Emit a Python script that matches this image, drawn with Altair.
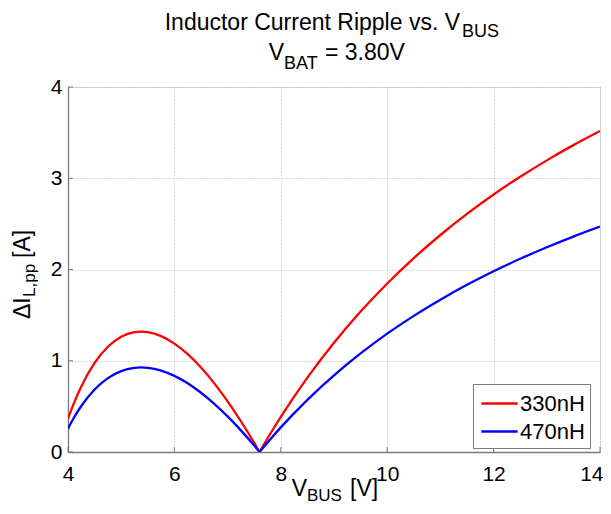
import altair as alt
import pandas as pd

# ---- data ----
vbus = [4.0, 4.1, 4.25, 4.5, 4.75, 5.0, 5.25, 5.374, 5.5, 5.75, 6.0, 6.25, 6.5, 6.75,
        7.0, 7.25, 7.5, 7.6, 7.8, 8.0, 8.5, 9.0, 9.5, 10.0, 10.5, 11.0, 11.5, 12.0,
        12.5, 13.0, 13.5, 14.0]
ripple_330 = [0.365, 0.519, 0.718, 0.976, 1.154, 1.264, 1.314, 1.320, 1.314, 1.270,
              1.188, 1.072, 0.925, 0.752, 0.555, 0.337, 0.100, 0.0, 0.197, 0.385,
              0.815, 1.197, 1.539, 1.847, 2.125, 2.378, 2.609, 2.822, 3.016, 3.196,
              3.363, 3.518]
ripple_470 = [0.256, 0.364, 0.504, 0.685, 0.810, 0.887, 0.922, 0.927, 0.922, 0.892,
              0.834, 0.753, 0.649, 0.528, 0.390, 0.237, 0.070, 0.0, 0.138, 0.270,
              0.572, 0.840, 1.080, 1.297, 1.492, 1.669, 1.832, 1.981, 2.117, 2.244,
              2.361, 2.470]
series = ["330nH", "470nH"]
x_ticks = [4, 6, 8, 10, 12, 14]
y_ticks = [0, 1, 2, 3, 4]
cusp = 7.6  # the curves touch zero here; draw each side as its own smooth piece

rows = []
for name, vals in zip(series, [ripple_330, ripple_470]):
    for v, i in zip(vbus, vals):
        if v <= cusp:
            rows.append({"v": v, "i": i, "L": name, "seg": name + "a"})
        if v >= cusp:
            rows.append({"v": v, "i": i, "L": name, "seg": name + "b"})
df = pd.DataFrame(rows)

FONT = "Liberation Sans"
W, H = 532, 365

xscale = alt.Scale(domain=[4, 14], nice=False, zero=False)
yscale = alt.Scale(domain=[0, 4], nice=False, zero=True)

grid_kw = dict(grid=True, gridDash=[1, 2], gridColor="#b4b4b4", gridWidth=1,
               ticks=False, domainColor="#7a7a7a", domainWidth=1.3,
               labelFont=FONT, labelFontSize=21, labelColor="black",
               labelFlush=False, title=None, format="d")

x_axis = alt.Axis(values=x_ticks, labelPadding=11,
                  labelAlign=alt.expr("datum.value == 14 ? 'right' : 'center'"),
                  labelOffset=alt.expr("datum.value == 14 ? 3 : 0"),
                  **grid_kw)

lines = alt.Chart(df).mark_line(strokeWidth=2.3, clip=True, interpolate="monotone").encode(
    x=alt.X("v:Q", scale=xscale, axis=x_axis),
    y=alt.Y("i:Q", scale=yscale, axis=alt.Axis(values=y_ticks, labelPadding=6, **grid_kw)),
    color=alt.Color("L:N",
                    scale=alt.Scale(domain=series, range=["#ff0000", "#0000ff"]),
                    legend=alt.Legend(orient="none", legendX=405, legendY=297, title=None,
                                      symbolType="M-1.4,0H1.4", symbolSize=676,
                                      symbolStrokeWidth=2.3, labelFont=FONT,
                                      labelFontSize=22, labelColor="black",
                                      padding=5, rowPadding=2, labelOffset=6,
                                      symbolOffset=7,
                                      strokeColor="#7a7a7a", fillColor="white")),
    detail="seg:N",
    order=alt.Order("v:Q"),
)

xt = alt.Chart(pd.DataFrame({"t": x_ticks})).mark_rule(color="#7a7a7a", strokeWidth=1).encode(
    x=alt.X("t:Q", scale=xscale), y=alt.value(H), y2=alt.value(H - 5))
yt = alt.Chart(pd.DataFrame({"t": y_ticks})).mark_rule(color="#7a7a7a", strokeWidth=1).encode(
    y=alt.Y("t:Q", scale=yscale), x=alt.value(0), x2=alt.value(5))


def txt(s, x, y, size, align="left", angle=0):
    return alt.Chart(alt.Data(values=[{}])).mark_text(
        text=s, font=FONT, fontSize=size, align=align, baseline="alphabetic",
        angle=angle, color="black").encode(x=alt.value(x), y=alt.value(y))


texts = [
    # title line 1
    txt("Inductor Current Ripple vs. V", 392, -57, 23, "right"),
    txt("BUS", 394, -50, 18, "left"),
    # title line 2
    txt("V", 216, -27, 23, "right"),
    txt("BAT", 216, -18, 18, "left"),
    txt("= 3.80V", 257, -27, 23, "left"),
    # x axis title
    txt("V", 239, 409, 23, "right"),
    txt("BUS", 239, 414, 17, "left"),
    txt("[V]", 282, 409, 23, "left"),
    # y axis title (rotated)
    txt("\u0394I", -38, 232, 23, "left", 270),
    txt("L,pp", -33, 210, 17, "left", 270),
    txt("[A]", -38, 171, 23, "left", 270),
]

chart = alt.layer(lines, xt, yt, *texts).properties(
    width=W, height=H,
    autosize=alt.AutoSizeParams(type="none"),
    padding={"left": 60, "top": 79, "right": 3, "bottom": 54},
).configure_view(stroke=None).configure(background="white")

chart.save("out.html", embed_options={"renderer": "svg", "actions": False})
